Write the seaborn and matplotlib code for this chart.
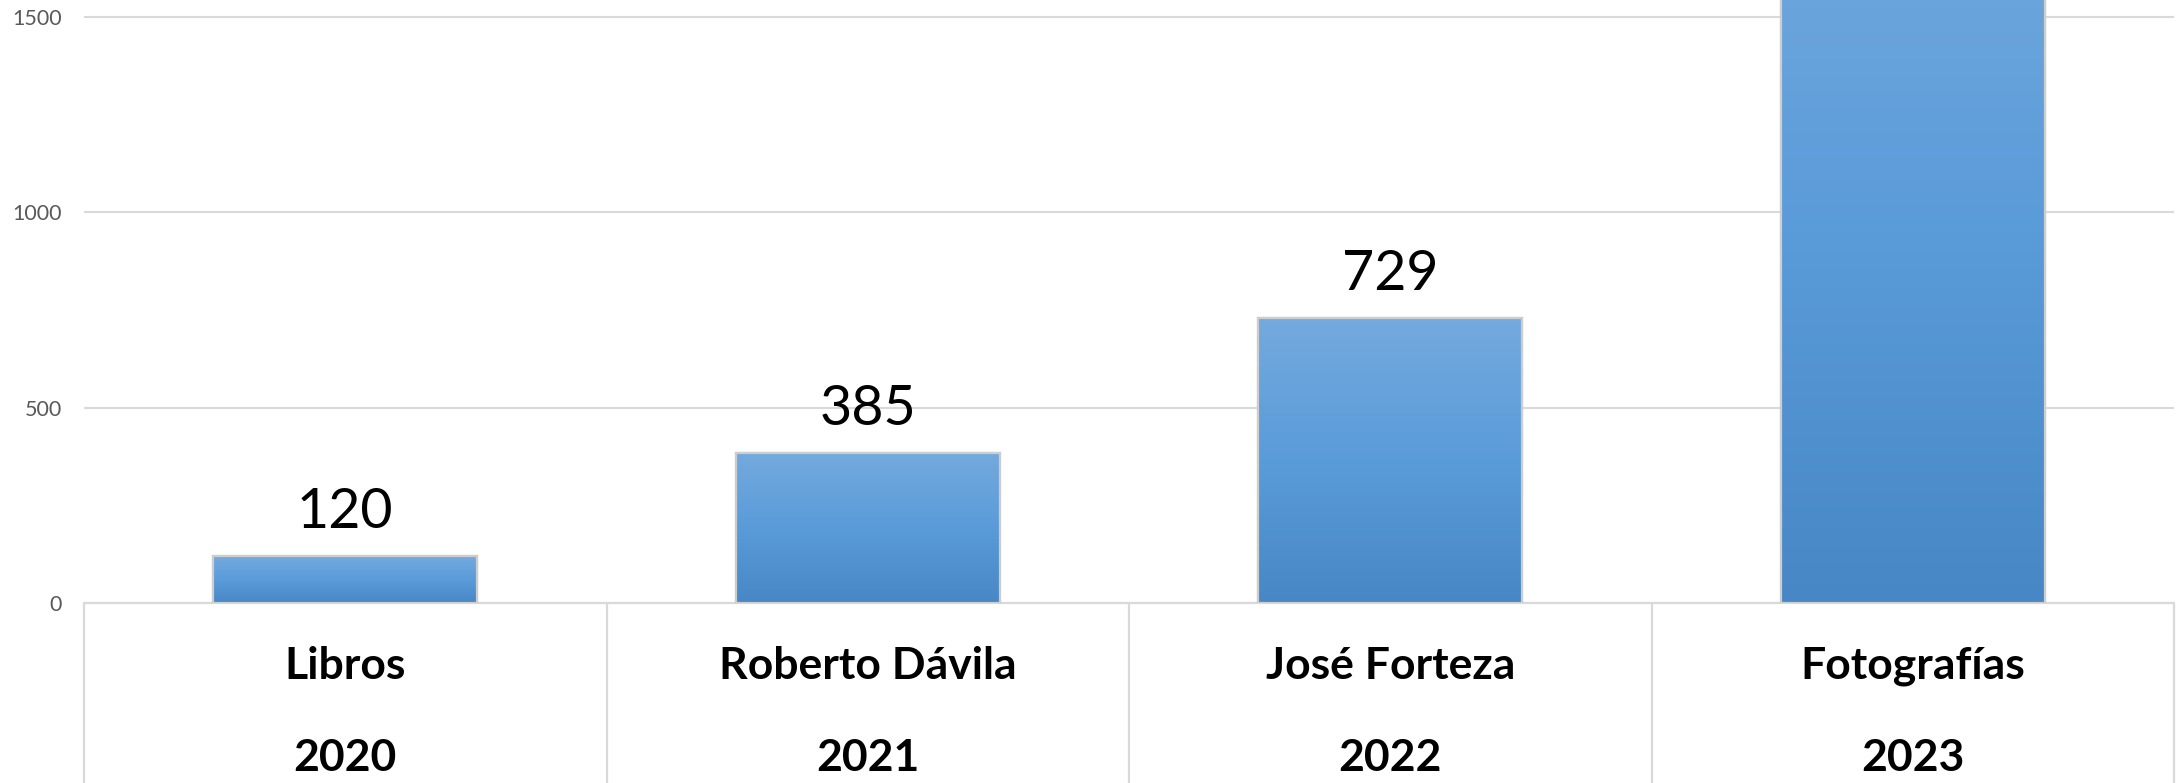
import numpy as np
import pandas as pd
import matplotlib
matplotlib.use("Agg")
import matplotlib.pyplot as plt
from matplotlib.colors import LinearSegmentedColormap
from matplotlib.patches import Rectangle
import seaborn as sns

# ---- data ----
categorias = ["Libros", "Roberto Dávila", "José Forteza", "Fotografías"]
anios = ["2020", "2021", "2022", "2023"]
valores = [120, 385, 729, 1900]   # last bar runs past the top of the visible area
yticks = [0, 500, 1000, 1500]

sns.set_theme(style="white")
plt.rcParams["font.family"] = ["Lato", "DejaVu Sans"]

W, H = 2183, 783
fig = plt.figure(figsize=(W / 100, H / 100), dpi=100)
fig.patch.set_facecolor("white")
ax = fig.add_axes([84 / W, (H - 603) / H, 2090 / W, 603 / H])

df = pd.DataFrame({"categoria": categorias, "valor": valores})
sns.barplot(data=df, x="categoria", y="valor", width=0.505, color="#5B9BD5",
            ax=ax, edgecolor="#cdcdcd", linewidth=1.6, zorder=2)

# gradient fill on each bar
cmap = LinearSegmentedColormap.from_list("g", ["#4787C5", "#5A9BD9", "#74AADE"])
grad = np.linspace(0, 1, 256).reshape(-1, 1)
for p in list(ax.patches):
    x0, w, h = p.get_x(), p.get_width(), p.get_height()
    im = ax.imshow(grad, cmap=cmap, extent=[x0, x0 + w, 0, h], origin="lower",
                   aspect="auto", zorder=2.5, interpolation="bilinear")
    im.set_clip_path(p)
    ax.add_patch(Rectangle((x0, 0), w, h, facecolor="none", edgecolor="#cdcdcd",
                           linewidth=1.6, zorder=2.6))

# data labels
ax.bar_label(ax.containers[0], labels=[str(v) for v in valores], padding=13,
             fontsize=40, color="black", zorder=4)

ax.set_xlim(-0.5, len(categorias) - 0.5)
ax.set_ylim(0, 1544)
ax.set_yticks(yticks)
ax.set_yticklabels([str(t) for t in yticks], fontsize=15.5, color="#595959")
ax.tick_params(axis="y", length=0, pad=16)
ax.tick_params(axis="x", length=0)
ax.set_xticklabels([])
ax.set_xlabel("")
ax.set_ylabel("")
for s in ax.spines.values():
    s.set_visible(False)
ax.yaxis.grid(True, color="#d9d9d9", linewidth=1.5, zorder=0)
ax.set_axisbelow(True)

# category labels (two rows)
tr = ax.get_xaxis_transform()
for i, (c, a) in enumerate(zip(categorias, anios)):
    ax.text(i, -76 / 603, c, transform=tr, ha="center", va="baseline",
            fontsize=32, fontweight="bold", color="black")
    ax.text(i, -168 / 603, a, transform=tr, ha="center", va="baseline",
            fontsize=32, fontweight="bold", color="black")

# separators of category table
for b in np.arange(-0.5, len(categorias), 1.0):
    ax.plot([b, b], [0, -0.31], transform=tr, clip_on=False,
            color="#d9d9d9", lw=1.6, zorder=1)
ax.plot([-0.5, len(categorias) - 0.5], [0, 0], transform=tr, clip_on=False,
        color="#d9d9d9", lw=1.6, zorder=1)

fig.savefig("out.png", dpi=100)
